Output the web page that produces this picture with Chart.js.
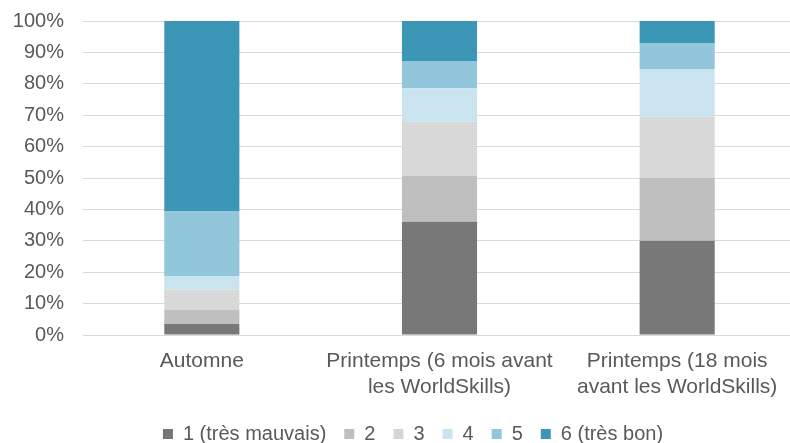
<!DOCTYPE html>
<html><head><meta charset="utf-8">
<script src="https://cdn.jsdelivr.net/npm/chart.js@4/dist/chart.umd.min.js"></script>
<style>html,body{margin:0;padding:0;background:#fff;overflow:hidden;width:790px;height:443px}#wrap{width:796px;height:464px;margin-top:-10px}</style>
</head><body><div id="wrap"><canvas id="c"></canvas></div>
<script>
const categories = [["Automne"], ["Printemps (6 mois avant", "les WorldSkills)"], ["Printemps (18 mois", "avant les WorldSkills)"]];
const seriesNames = ["1 (très mauvais)", "2", "3", "4", "5", "6 (très bon)"];
const s1 = [3.5, 36.1, 30.0];
const s2 = [4.5, 14.6, 20.0];
const s3 = [6.5, 17.2, 19.6];
const s4 = [4.3, 10.7, 15.1];
const s5 = [20.5, 8.7, 8.3];
const s6 = [60.7, 12.7, 7.0];
const yTicks = [0, 10, 20, 30, 40, 50, 60, 70, 80, 90, 100];

function dotPattern(base, dot) {
  const p = document.createElement('canvas');
  p.width = 4; p.height = 4;
  const g = p.getContext('2d');
  g.fillStyle = base; g.fillRect(0, 0, 4, 4);
  g.fillStyle = dot; g.fillRect(0, 0, 1, 1); g.fillRect(2, 2, 1, 1);
  return g.createPattern(p, 'repeat');
}
const ctx = document.getElementById('c').getContext('2d');
const colors = [dotPattern('#7a7a7a', '#6c6c6c'), '#bfbfbf', dotPattern('#dadada', '#cdcdcd'), '#c9e4ee', '#92c6da', '#3b97b5'];
const legendColors = ['#767676', '#bfbfbf', '#d6d6d6', '#c9e4ee', '#92c6da', '#3b97b5'];
const values = [s1, s2, s3, s4, s5, s6];
const FONT = 'Liberation Sans';

const legendShift = {
  id: 'legendShift',
  afterLayout(chart) { if (chart.legend) { chart.legend.left += 30; } }
};

new Chart(ctx, {
  type: 'bar',
  data: {
    labels: categories,
    datasets: values.map((v, i) => ({
      label: seriesNames[i], data: v, backgroundColor: colors[i],
      borderWidth: 0, categoryPercentage: 1, barPercentage: 0.316
    }))
  },
  plugins: [legendShift],
  options: {
    responsive: true, maintainAspectRatio: false, animation: false,
    layout: { padding: { top: 0, right: 0, bottom: 0, left: 0 } },
    plugins: {
      tooltip: { enabled: false },
      legend: {
        position: 'bottom',
        labels: {
          color: '#595959', font: { family: FONT, size: 20 },
          boxWidth: 10, boxHeight: 10, padding: 18,
          generateLabels: (chart) => seriesNames.map((n, i) => ({
            text: n, fillStyle: legendColors[i], strokeStyle: legendColors[i], lineWidth: 0, datasetIndex: i, fontColor: '#595959'
          }))
        }
      }
    },
    scales: {
      x: {
        stacked: true,
        grid: { display: false, drawTicks: false },
        border: { display: false },
        ticks: { color: '#595959', font: { family: FONT, size: 21, lineHeight: 1.2 }, padding: 14, maxRotation: 0 },
        afterFit: (s) => { s.height = 71; }
      },
      y: {
        stacked: true, min: 0, max: 100,
        grid: { color: '#d9d9d9', lineWidth: 1, drawTicks: false },
        border: { display: false },
        afterBuildTicks: (s) => { s.ticks = yTicks.map(v => ({ value: v })); },
        ticks: { color: '#595959', font: { family: FONT, size: 20 }, padding: 19, callback: (v) => v + '%' },
        afterFit: (s) => { s.width = 83; }
      }
    }
  }
});
</script></body></html>
